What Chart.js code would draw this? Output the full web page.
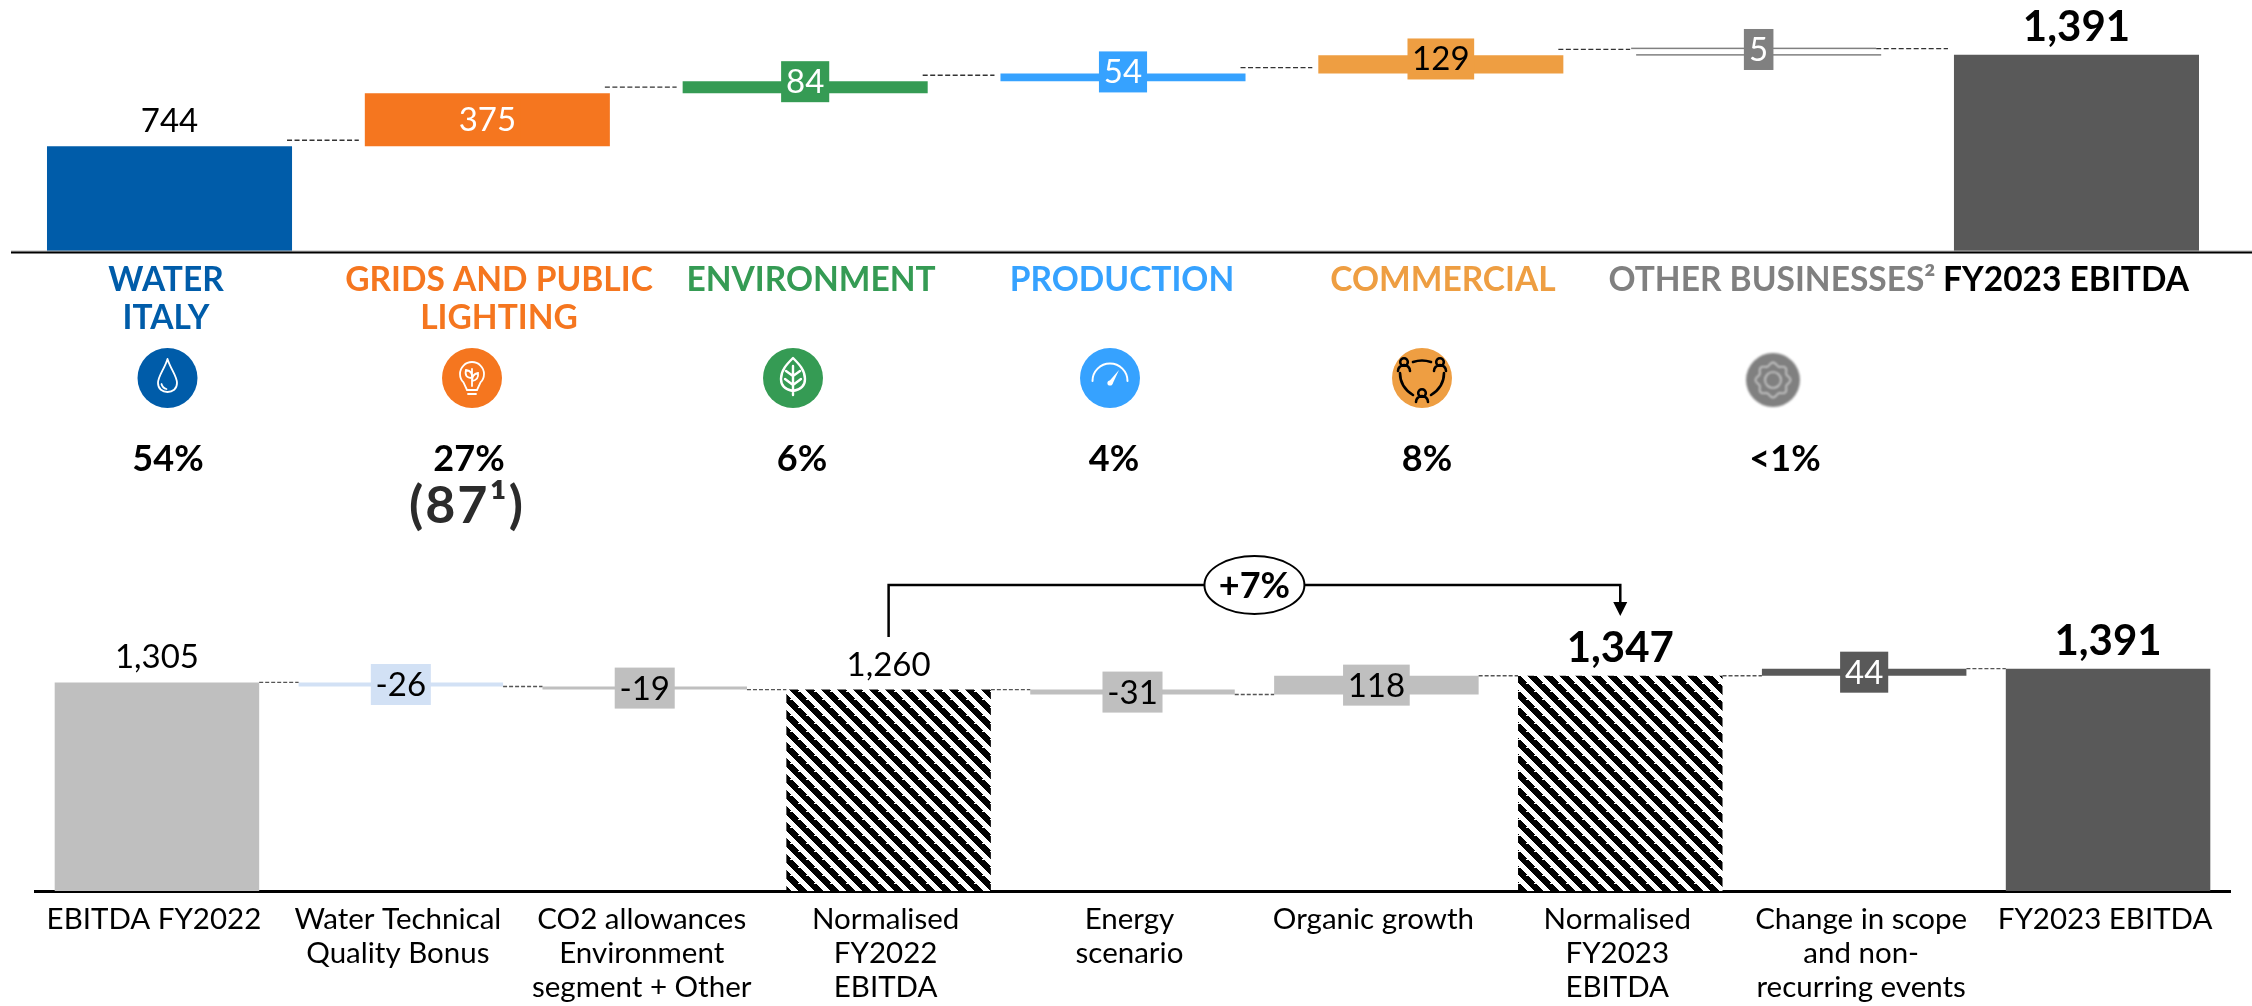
<!DOCTYPE html>
<html>
<head>
<meta charset="utf-8">
<script src="https://cdn.jsdelivr.net/npm/chart.js@4"></script>
<style>
  html, body { margin: 0; padding: 0; background: #fff; overflow: hidden; }
  canvas { position: absolute; left: 0; }
  #upperChart { top: 0; }
  #lowerChart { top: 540px; }
</style>
</head>
<body>
<canvas id="upperChart" width="2252" height="540"></canvas>
<canvas id="lowerChart" width="2252" height="466"></canvas>
<script>
// top waterfall: EBITDA by business unit
const upperLabels = [['WATER', 'ITALY'], ['GRIDS AND PUBLIC', 'LIGHTING'], ['ENVIRONMENT'], ['PRODUCTION'], ['COMMERCIAL'], ['OTHER BUSINESSES²'], ['FY2023 EBITDA']];
const upperValues = [744, 375, 84, 54, 129, 5, 1391];
const upperTotals = [true, false, false, false, false, false, true];
const upperShares = ['54%', '27%', '6%', '4%', '8%', '<1%'];
const upperNote = '(87¹)';

// bottom waterfall: FY2022 to FY2023 bridge
const lowerLabels = [['EBITDA FY2022'], ['Water Technical', 'Quality Bonus'], ['CO2 allowances', 'Environment', 'segment + Other'], ['Normalised', 'FY2022', 'EBITDA'], ['Energy', 'scenario'], ['Organic growth'], ['Normalised', 'FY2023', 'EBITDA'], ['Change in scope', 'and non-', 'recurring events'], ['FY2023 EBITDA']];
const lowerValues = [1305, -26, -19, 1260, -31, 118, 1347, 44, 1391];
const lowerTotals = [true, false, false, true, false, false, true, false, true];
const growthLabel = '+7%';

// styling, kept apart from the values
const FONT = 'Lato, sans-serif';
const upperColors = ['#005ca9', '#f5761f', '#359b54', '#36a2ff', '#ee9e42', '#ffffff', '#595959'];
const upperBoxText = ['#000', '#fff', '#fff', '#fff', '#000', '#fff', '#000'];
const upperBoxColors = [null, '#f5761f', '#359b54', '#36a2ff', '#ee9e42', '#808080', null];
const headingColors = ['#005ca9', '#f5761f', '#359b54', '#36a2ff', '#ee9e42', '#808080', '#000'];
const headingX = [166, 499, 811, 1122, 1443, 1772, 2066];
const iconX = [167.5, 472, 793, 1110, 1422, 1773];
const shareX = [168, 469, 802, 1114, 1427, 1785];
const lowerBoxColors = [null, '#d2e1f5', '#bfbfbf', null, '#bfbfbf', '#bfbfbf', null, '#595959', null];
const lowerBoxText = ['#000', '#000', '#000', '#000', '#000', '#000', '#000', '#fff', '#000'];

function toFloating(values, totals) {
    let level = 0;
    return values.map((v, i) => {
        if (totals[i]) { level = v; return [0, v]; }
        const start = level;
        level += v;
        return [start, level];
    });
}

// diagonal stripes with a small notch, like the source's pixel hatch
function hatchPattern(ctx) {
    const tile = document.createElement('canvas');
    tile.width = tile.height = 16;
    const t = tile.getContext('2d');
    t.fillStyle = '#fff';
    t.fillRect(0, 0, 16, 16);
    t.fillStyle = '#000';
    for (let y = 0; y < 16; y++) {
        for (let x = 0; x < 16; x++) {
            const run = y % 8 === 7 ? 7 : 9;
            if (((x - y + 16) & 15) < run) t.fillRect(x, y, 1, 1);
        }
    }
    return ctx.createPattern(tile, 'repeat');
}

function dashed(ctx, x1, x2, y, color, width, dash) {
    ctx.save();
    ctx.strokeStyle = color;
    ctx.lineWidth = width;
    ctx.setLineDash(dash);
    ctx.beginPath();
    ctx.moveTo(x1, y);
    ctx.lineTo(x2, y);
    ctx.stroke();
    ctx.restore();
}

function valueText(ctx, text, x, baseline, bold, color) {
    ctx.font = (bold ? '700 42px ' : '400 33px ') + FONT;
    ctx.fillStyle = color;
    ctx.textAlign = 'center';
    ctx.textBaseline = 'alphabetic';
    ctx.fillText(text, x, baseline);
}

function boxedValue(ctx, text, x, cy, boxColor, textColor) {
    ctx.font = '400 32px ' + FONT;
    const w = ctx.measureText(text).width + 11;
    ctx.fillStyle = boxColor;
    ctx.fillRect(x - w / 2, cy - 20.5, w, 41);
    valueText(ctx, text, x, cy + 11.5, false, textColor);
}

// icons, r is the badge radius
function drawIcon(ctx, kind, x, y) {
    ctx.save();
    ctx.translate(x, y);
    if (kind === 5) ctx.filter = 'blur(1px)';
    const r = kind === 5 ? 27 : 30;
    ctx.fillStyle = kind === 5 ? '#808080' : upperColors[kind];
    ctx.beginPath();
    ctx.arc(0, kind === 5 ? 2 : 0, r, 0, Math.PI * 2);
    ctx.fill();
    ctx.strokeStyle = '#fff';
    ctx.fillStyle = '#fff';
    ctx.lineWidth = 1.8;
    ctx.lineCap = 'round';
    ctx.beginPath();
    if (kind === 0) {
        ctx.moveTo(0, -19);
        ctx.bezierCurveTo(-3, -9, -9.5, -2, -9.5, 5);
        ctx.bezierCurveTo(-9.5, 11, -5, 14, 0, 14);
        ctx.bezierCurveTo(5, 14, 9.5, 11, 9.5, 5);
        ctx.bezierCurveTo(9.5, -2, 3, -9, 0, -19);
        ctx.moveTo(-6, 6);
        ctx.quadraticCurveTo(-5, 10, -1, 11);
        ctx.stroke();
    } else if (kind === 1) {
        ctx.arc(0, -4, 12, Math.PI * 0.75, Math.PI * 0.25);
        ctx.lineTo(5, 12);
        ctx.lineTo(-5, 12);
        ctx.closePath();
        ctx.moveTo(-4, 16);
        ctx.lineTo(4, 16);
        ctx.moveTo(0, 8);
        ctx.lineTo(0, -9);
        ctx.moveTo(0, 0);
        ctx.quadraticCurveTo(-8, 0, -6, -8);
        ctx.quadraticCurveTo(1, -7, 0, 0);
        ctx.moveTo(0, 3);
        ctx.quadraticCurveTo(7, 2, 6, -5);
        ctx.quadraticCurveTo(0, -4, 0, 3);
        ctx.stroke();
    } else if (kind === 2) {
        ctx.lineWidth = 2.4;
        ctx.moveTo(0, -20);
        ctx.bezierCurveTo(-6, -14, -12, -8, -12, 1);
        ctx.bezierCurveTo(-12, 9, -6, 12, 0, 13);
        ctx.bezierCurveTo(6, 12, 12, 9, 12, 1);
        ctx.bezierCurveTo(12, -8, 6, -14, 0, -20);
        ctx.moveTo(0, -12);
        ctx.lineTo(0, 17);
        ctx.moveTo(-7, -7);
        ctx.lineTo(0, -2);
        ctx.lineTo(7, -7);
        ctx.moveTo(-8, 1);
        ctx.lineTo(0, 7);
        ctx.lineTo(8, 1);
        ctx.stroke();
    } else if (kind === 3) {
        ctx.lineWidth = 2;
        ctx.arc(0, 3, 17.5, Math.PI, 0);
        ctx.stroke();
        ctx.beginPath();
        ctx.moveTo(-1.5, 4);
        ctx.lineTo(9, -8);
        ctx.lineTo(2.5, 6);
        ctx.closePath();
        ctx.fill();
        ctx.beginPath();
        ctx.arc(0, 5, 2.6, 0, Math.PI * 2);
        ctx.fill();
    } else if (kind === 4) {
        ctx.strokeStyle = '#000';
        ctx.fillStyle = '#000';
        ctx.lineWidth = 2.6;
        ctx.moveTo(-9, -16);
        ctx.quadraticCurveTo(0, -19, 9, -16);
        ctx.moveTo(-22, -5);
        ctx.quadraticCurveTo(-22, 9, -9, 17);
        ctx.moveTo(22, -5);
        ctx.quadraticCurveTo(22, 9, 9, 17);
        ctx.stroke();
        [[-18, -14], [18, -14], [0, 17]].forEach(p => {
            ctx.beginPath();
            ctx.arc(p[0], p[1] - 2, 3.8, 0, Math.PI * 2);
            ctx.moveTo(p[0] - 6, p[1] + 7);
            ctx.arc(p[0], p[1] + 7, 6, Math.PI, 0);
            ctx.stroke();
        });
    } else {
        ctx.lineWidth = 1.6;
        ctx.strokeStyle = '#d0d0d0';
        for (let i = 0; i <= 64; i++) {
            const a = i / 64 * Math.PI * 2;
            const rr = 16 + 1.6 * Math.cos(a * 8);
            const px = rr * Math.cos(a), py = 2 + rr * Math.sin(a);
            if (i === 0) ctx.moveTo(px, py); else ctx.lineTo(px, py);
        }
        ctx.moveTo(8, 2);
        ctx.arc(0, 2, 8, 0, Math.PI * 2);
        ctx.stroke();
    }
    ctx.restore();
}

const upperPlugin = {
    id: 'upperDecor',
    afterDatasetsDraw(chart) {
        const ctx = chart.ctx;
        const y = chart.scales.y;
        const bars = chart.getDatasetMeta(0).data;
        const spans = chart.data.datasets[0].data;
        ctx.save();

        // baseline runs past the chart area on the right
        ctx.fillStyle = '#b5b5b5';
        ctx.fillRect(11, 250.5, 2241, 1);
        ctx.fillStyle = '#000';
        ctx.fillRect(11, 251.5, 2241, 2);

        // connectors float a little above the running total
        bars.forEach((bar, i) => {
            if (i === bars.length - 1) return;
            const level = y.getPixelForValue(spans[i][1]) - 6;
            dashed(ctx, bar.x + bar.width / 2 - 5, bars[i + 1].x - bars[i + 1].width / 2 - 6, level, '#333', 1.4, [5, 2.5]);
        });

        // thin "other businesses" bar has a twin line above it
        const thin = bars[5];
        ctx.fillStyle = '#808080';
        ctx.fillRect(thin.x - thin.width / 2 - 5, y.getPixelForValue(spans[5][1]) - 7, thin.width, 1.5);
        ctx.fillRect(thin.x - thin.width / 2, y.getPixelForValue(spans[5][1]) - 0.5, thin.width, 1.5);

        bars.forEach((bar, i) => {
            const text = upperValues[i].toLocaleString('en-US');
            const top = y.getPixelForValue(spans[i][1]);
            const bottom = y.getPixelForValue(spans[i][0]);
            if (upperTotals[i]) {
                valueText(ctx, text, bar.x, top - 14, upperValues[i] > 1000, '#000');
            } else {
                const tall = bottom - top > 41;
                boxedValue(ctx, text, bar.x, (top + bottom) / 2 - (tall ? 0 : 5.5), upperBoxColors[i], upperBoxText[i]);
            }
        });

        // headings
        ctx.font = '700 33.5px ' + FONT;
        ctx.textAlign = 'center';
        ctx.textBaseline = 'alphabetic';
        upperLabels.forEach((lines, i) => {
            ctx.fillStyle = headingColors[i];
            lines.forEach((line, k) => ctx.fillText(line, headingX[i], 291 + k * 38));
        });

        // icons and shares
        iconX.forEach((x, i) => drawIcon(ctx, i, x, 378));
        ctx.font = '700 36px ' + FONT;
        ctx.fillStyle = '#000';
        upperShares.forEach((s, i) => ctx.fillText(s, shareX[i], 471));
        ctx.font = '700 52px ' + FONT;
        ctx.letterSpacing = '2px';
        ctx.fillStyle = '#2b2b2b';
        ctx.fillText(upperNote, 467, 523);
        ctx.letterSpacing = '0px';
        ctx.restore();
    }
};

const lowerPlugin = {
    id: 'lowerDecor',
    afterDatasetsDraw(chart) {
        const ctx = chart.ctx;
        const y = chart.scales.y;
        const bars = chart.getDatasetMeta(0).data;
        const spans = chart.data.datasets[0].data;
        ctx.save();

        bars.forEach((bar, i) => {
            if (i === bars.length - 1) return;
            const level = y.getPixelForValue(spans[i][1]);
            dashed(ctx, bar.x + bar.width / 2, bars[i + 1].x - bars[i + 1].width / 2, level, '#555', 1.4, [4, 2]);
        });

        bars.forEach((bar, i) => {
            const text = lowerValues[i].toLocaleString('en-US');
            const a = y.getPixelForValue(spans[i][0]);
            const b = y.getPixelForValue(spans[i][1]);
            if (lowerTotals[i]) {
                valueText(ctx, text, bar.x, Math.min(a, b) - 14, lowerValues[i] > 1300 && i > 0, '#000');
            } else {
                boxedValue(ctx, text, bar.x, (a + b) / 2, lowerBoxColors[i], lowerBoxText[i]);
            }
        });

        // growth bracket from normalised FY2022 to normalised FY2023
        const xa = bars[3].x, xb = bars[6].x;
        ctx.strokeStyle = '#000';
        ctx.lineWidth = 2.5;
        ctx.beginPath();
        ctx.moveTo(xa, 97);
        ctx.lineTo(xa, 45);
        ctx.lineTo(xb, 45);
        ctx.lineTo(xb, 64);
        ctx.stroke();
        ctx.fillStyle = '#000';
        ctx.beginPath();
        ctx.moveTo(xb - 7, 62);
        ctx.lineTo(xb + 7, 62);
        ctx.lineTo(xb, 76);
        ctx.closePath();
        ctx.fill();
        const cx = (xa + xb) / 2;
        ctx.fillStyle = '#fff';
        ctx.lineWidth = 2;
        ctx.beginPath();
        ctx.ellipse(cx, 45, 50, 29, 0, 0, Math.PI * 2);
        ctx.fill();
        ctx.stroke();
        ctx.font = '700 36px ' + FONT;
        ctx.fillStyle = '#000';
        ctx.textAlign = 'center';
        ctx.textBaseline = 'alphabetic';
        ctx.fillText(growthLabel, cx, 58);
        ctx.restore();
    }
};

function makeChart(id, labels, spans, colors, opts, plugin) {
    const canvas = document.getElementById(id);
    return new Chart(canvas.getContext('2d'), {
        type: 'bar',
        data: {
            labels: labels,
            datasets: [{
                data: spans,
                backgroundColor: colors,
                borderWidth: 0,
                barPercentage: opts.barPercentage,
                categoryPercentage: 1
            }]
        },
        options: {
            responsive: false,
            animation: false,
            devicePixelRatio: 1,
            layout: { padding: opts.padding },
            plugins: { legend: { display: false }, tooltip: { enabled: false } },
            scales: {
                x: {
                    afterFit: scale => { scale.height = opts.axisHeight; },
                    grid: { display: false },
                    border: opts.border,
                    ticks: opts.ticks
                },
                y: { display: false, min: 0, max: opts.yMax }
            }
        },
        plugins: [plugin]
    });
}

const lowerCtx = document.getElementById('lowerChart').getContext('2d');
const lowerColors = ['#bfbfbf', '#d2e1f5', '#bfbfbf', hatchPattern(lowerCtx), '#bfbfbf', '#bfbfbf', hatchPattern(lowerCtx), '#595959', '#595959'];

makeChart('upperChart', upperLabels, toFloating(upperValues, upperTotals), upperColors, {
    barPercentage: 0.771,
    padding: { left: 10.6, right: 16.6, top: 0, bottom: 0 },
    axisHeight: 288.5,
    border: { display: false },
    ticks: { display: false },
    yMax: 1777
}, upperPlugin);

makeChart('lowerChart', lowerLabels, toFloating(lowerValues, lowerTotals), lowerColors, {
    barPercentage: 0.8385,
    padding: { left: 35, right: 22, top: 0, bottom: 0 },
    axisHeight: 115,
    border: { display: true, color: '#000', width: 3 },
    ticks: {
        color: '#000',
        autoSkip: false,
        maxRotation: 0,
        minRotation: 0,
        padding: 3,
        labelOffset: -3,
        font: { family: 'Lato', size: 29.5, lineHeight: 34 / 29.5 }
    },
    yMax: 2196
}, lowerPlugin);
</script>
</body>
</html>
